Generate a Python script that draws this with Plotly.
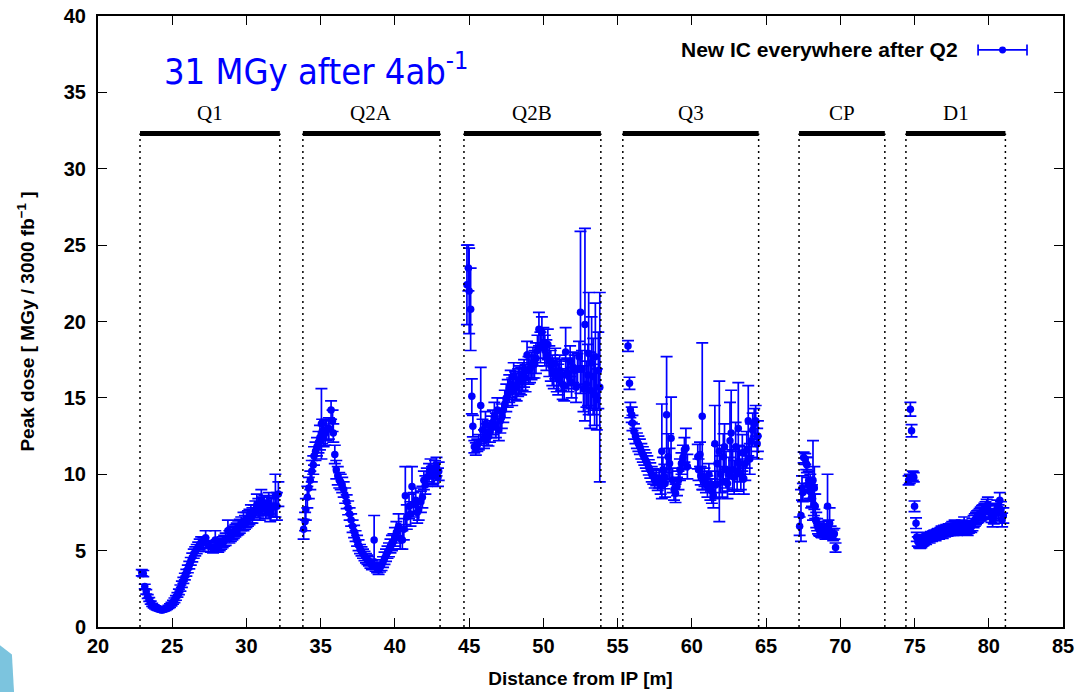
import plotly.graph_objects as go

# ---------------- data ----------------
# Q1
q1_x = [22.95, 23.05, 23.15, 23.25, 23.35, 23.45, 23.55, 23.65, 23.75, 23.85, 23.95, 24.05, 24.15, 24.25,
        24.35, 24.45, 24.55, 24.65, 24.75, 24.85, 24.95, 25.05, 25.15, 25.25, 25.35, 25.45, 25.55, 25.65,
        25.75, 25.85, 25.95, 26.05, 26.15, 26.25, 26.35, 26.45, 26.55, 26.65, 26.75, 26.85, 26.95, 27.1,
        27.25, 27.45, 27.6, 27.75, 27.9, 28.0, 28.1, 28.2, 28.3, 28.4, 28.5, 28.6, 28.75, 28.85, 28.95,
        29.05, 29.15, 29.25, 29.35, 29.45, 29.55, 29.65, 29.8, 29.9, 30.0, 30.1, 30.2, 30.3, 30.4, 30.5,
        30.6, 30.7, 30.8, 30.9, 31.0, 31.1, 31.2, 31.3, 31.4, 31.5, 31.6, 31.7, 31.85, 31.95, 32.05, 32.15]
q1_y = [3.55, 3.5, 2.65, 2.3, 2.0, 1.8, 1.6, 1.45, 1.35, 1.28, 1.22, 1.18, 1.15, 1.12,
        1.12, 1.15, 1.18, 1.25, 1.32, 1.4, 1.5, 1.62, 1.75, 1.9, 2.1, 2.3, 2.55, 2.8,
        3.05, 3.3, 3.55, 3.8, 4.05, 4.3, 4.55, 4.8, 4.95, 5.1, 5.25, 5.4, 5.55, 5.5,
        5.85, 5.3, 5.25, 5.2, 5.7, 5.3, 5.25, 5.35, 5.45, 5.55, 5.65, 5.75, 6.3, 5.9, 6.0,
        6.1, 6.2, 6.3, 6.4, 6.5, 6.6, 6.75, 6.9, 6.85, 7.0, 7.1, 7.2, 7.4, 7.3, 7.5,
        7.7, 8.0, 7.8, 7.6, 8.2, 7.9, 8.0, 7.7, 7.9, 8.1, 7.5, 7.8, 7.9, 8.6, 7.9, 8.7]
q1_e = [0.2, 0.2, 0.15, 0.15, 0.12, 0.12, 0.1, 0.1, 0.1, 0.1, 0.1, 0.1, 0.1, 0.1,
        0.1, 0.1, 0.1, 0.1, 0.1, 0.12, 0.12, 0.12, 0.15, 0.15, 0.15, 0.18, 0.2, 0.2,
        0.2, 0.22, 0.22, 0.25, 0.25, 0.25, 0.28, 0.3, 0.3, 0.3, 0.3, 0.35, 0.35, 0.35,
        0.45, 0.35, 0.35, 0.35, 0.6, 0.4, 0.35, 0.35, 0.35, 0.35, 0.35, 0.4, 0.7, 0.4, 0.4,
        0.4, 0.4, 0.4, 0.4, 0.45, 0.45, 0.45, 0.6, 0.45, 0.5, 0.5, 0.5, 0.6, 0.5, 0.5,
        0.55, 0.7, 0.6, 0.6, 0.8, 0.6, 0.6, 0.6, 0.6, 0.7, 0.6, 0.6, 0.7, 1.4, 0.9, 0.8]

# Q2A
q2a_x = [33.85, 33.95, 34.0, 34.1, 34.2, 34.3, 34.4, 34.5, 34.55, 34.65, 34.75, 34.85, 34.95, 35.05,
         35.1, 35.2, 35.3, 35.4, 35.55, 35.7, 35.8, 35.85, 35.95, 36.05, 36.15, 36.25, 36.35, 36.45,
         36.55, 36.65, 36.75, 36.85, 36.95, 37.05, 37.15, 37.25, 37.35, 37.45, 37.55, 37.65, 37.75,
         37.85, 37.95, 38.05, 38.15, 38.25, 38.35, 38.45, 38.6, 38.7, 38.8, 38.9, 39.0, 39.1, 39.2,
         39.3, 39.4, 39.5, 39.6, 39.7, 39.8, 39.9, 40.0, 40.1, 40.25, 40.35, 40.5, 40.6, 40.7, 40.8,
         40.95, 41.05, 41.15, 41.25, 41.4, 41.5, 41.6, 41.75, 41.85, 41.95, 42.05, 42.15, 42.3, 42.4,
         42.5, 42.6, 42.7, 42.8, 42.9, 42.95]
q2a_y = [6.4, 6.9, 7.7, 8.5, 9.1, 9.6, 10.2, 10.6, 11.2, 11.5, 11.8, 12.1, 12.4, 13.3,
         12.8, 12.5, 12.7, 12.9, 13.0, 14.2, 13.5, 12.7, 11.3, 10.3, 9.9, 9.6, 9.5, 9.3,
         9.0, 8.6, 8.2, 7.8, 7.4, 7.0, 6.6, 6.25, 5.95, 5.65, 5.35, 5.1, 4.95,
         4.8, 4.65, 4.5, 4.4, 4.3, 4.15, 4.05, 5.7, 3.95, 3.85, 3.75, 3.9, 4.05, 4.25,
         4.5, 4.7, 4.9, 5.05, 5.3, 5.5, 5.6, 5.9, 6.2, 6.6, 5.8, 5.7, 6.4, 8.6, 7.2,
         7.9, 7.4, 9.2, 8.0, 8.3, 7.5, 7.7, 8.2, 8.5, 9.6, 9.3, 9.8, 10.1, 10.4,
         9.9, 10.0, 10.3, 10.5, 9.8, 10.2]
q2a_e = [0.65, 0.6, 0.7, 0.7, 0.7, 0.6, 0.7, 0.6, 0.6, 0.6, 0.6, 0.7, 0.8, 2.3,
         0.8, 0.7, 0.8, 0.7, 0.7, 0.6, 0.7, 0.6, 0.6, 0.6, 0.6, 0.5, 0.5, 0.5,
         0.5, 0.5, 0.45, 0.45, 0.4, 0.4, 0.4, 0.4, 0.35, 0.35, 0.35, 0.3, 0.3,
         0.3, 0.3, 0.3, 0.3, 0.3, 0.3, 0.3, 1.6, 0.3, 0.3, 0.3, 0.3, 0.35, 0.35,
         0.4, 0.4, 0.4, 0.45, 0.45, 0.5, 0.5, 0.6, 0.7, 0.8, 0.7, 0.6, 0.7, 1.9, 0.8,
         0.8, 0.8, 1.3, 0.8, 0.8, 0.7, 0.7, 0.7, 0.7, 0.6, 0.6, 0.6, 0.6, 0.6,
         0.6, 0.6, 0.6, 0.6, 0.6, 0.6]

# Q2B
q2b_x = [44.85, 44.95, 45.0, 45.1, 45.18, 45.25, 45.35, 45.45, 45.55, 45.65, 45.78, 45.9, 46.0, 46.1,
         46.2, 46.3, 46.4, 46.5, 46.6, 46.7, 46.8, 46.9, 47.0, 47.1, 47.2, 47.3, 47.4, 47.5, 47.6,
         47.7, 47.8, 47.9, 48.0, 48.1, 48.2, 48.3, 48.4, 48.5, 48.6, 48.7, 48.8, 48.9, 49.0, 49.1,
         49.2, 49.3, 49.4, 49.5, 49.6, 49.7, 49.8, 49.9, 50.0, 50.1, 50.2, 50.3, 50.4, 50.5, 50.6,
         50.7, 50.8, 50.9, 51.0, 51.1, 51.2, 51.3, 51.4, 51.5, 51.6, 51.7, 51.8, 51.9, 52.0, 52.1,
         52.2, 52.3, 52.4, 52.5, 52.6, 52.7, 52.8, 52.9, 53.0, 53.05, 53.15, 53.25, 53.35, 53.45,
         53.5, 53.6, 53.7, 53.8]
q2b_y = [22.4, 23.5, 22.0, 20.8, 15.1, 13.15, 11.8, 11.65, 11.9, 12.1, 14.5, 12.9, 12.3, 13.3,
         12.6, 12.45, 12.8, 13.1, 13.4, 13.8, 13.2, 14.2, 12.9, 13.5, 13.8, 14.2, 14.6, 15.0, 15.3,
         15.6, 15.9, 15.4, 16.4, 15.8, 15.7, 16.0, 16.2, 16.1, 16.4, 16.6, 16.3, 17.8, 16.8, 16.9,
         17.1, 17.3, 17.2, 17.6, 18.1, 19.5, 18.3, 19.3, 18.6, 18.1, 17.8, 18.5, 17.4, 17.1, 16.8,
         16.6, 17.25, 16.4, 16.2, 16.8, 16.5, 15.9, 15.8, 18.0, 16.6, 16.4, 17.4, 16.0, 17.0, 16.8,
         15.7, 16.9, 17.7, 20.6, 16.9, 15.6, 19.8, 15.9, 16.5, 17.9, 15.5, 17.3, 16.4, 15.2,
         17.7, 14.9, 16.8, 15.7]
q2b_e = [2.6, 1.5, 2.8, 2.7, 1.15, 0.7, 0.4, 0.4, 0.4, 0.5, 2.5, 0.7, 0.6, 0.8,
         0.7, 0.6, 0.7, 0.7, 0.8, 0.9, 0.8, 0.8, 0.7, 0.8, 0.8, 0.8, 0.9, 0.9, 0.9,
         0.9, 0.9, 0.9, 0.9, 0.9, 0.9, 0.9, 0.9, 0.9, 0.9, 0.9, 0.9, 0.9, 0.9, 0.9,
         0.9, 1.0, 0.9, 1.0, 1.0, 1.1, 1.0, 1.0, 1.0, 1.0, 1.0, 1.0, 1.0, 1.0, 1.0,
         1.0, 1.0, 1.0, 1.0, 1.0, 1.0, 1.0, 1.0, 1.6, 1.0, 1.0, 1.0, 1.0, 1.0, 1.0,
         1.0, 1.0, 1.0, 5.3, 1.2, 1.5, 6.3, 1.5, 2.0, 4.0, 2.5, 3.0, 2.5, 2.0,
         3.5, 2.0, 2.5, 6.2]

# Q3
q3_x = [55.7, 55.8, 55.86, 55.95, 56.0, 56.1, 56.2, 56.3, 56.4, 56.5, 56.6, 56.7, 56.8, 56.9, 57.0,
        57.1, 57.2, 57.3, 57.4, 57.5, 57.6, 57.7, 57.8, 57.9, 57.98, 58.05, 58.15, 58.2, 58.3, 58.4,
        58.5, 58.6, 58.7, 58.8, 58.9, 59.0, 59.1, 59.2, 59.3, 59.4, 59.5, 59.6, 59.7,
        60.4, 60.45, 60.55, 60.6, 60.7, 60.75, 60.85, 60.95, 61.05, 61.15, 61.25, 61.35, 61.45,
        61.55, 61.6, 61.7, 61.85, 61.95, 62.05, 62.12, 62.2, 62.3, 62.4, 62.5, 62.57, 62.65, 62.75,
        62.85, 62.95, 63.05, 63.13, 63.2, 63.3, 63.4, 63.5, 63.6, 63.7, 63.8, 63.9, 64.0, 64.1, 64.2,
        64.3, 64.4, 64.45]
q3_y = [18.4, 15.95, 14.2, 13.9, 13.35, 12.8, 12.5, 12.2, 12.0, 11.8, 11.5, 11.3, 11.1, 10.9, 10.7,
        10.45, 10.25, 10.0, 9.85, 9.6, 9.75, 9.45, 9.7, 9.3, 11.5, 10.3, 9.85, 9.4, 13.9, 11.15,
        10.7, 12.35, 9.6, 9.0, 8.75, 9.2, 9.6, 10.3, 10.7, 11.1, 11.6, 11.7, 10.5,
        11.15, 10.3, 11.3, 9.9, 13.8, 9.6, 9.8, 9.4, 9.2, 10.0, 9.0, 8.9, 8.6,
        12.0, 9.3, 10.7, 11.5, 10.0, 9.5, 11.15, 11.8, 10.3, 9.4, 10.0, 12.2, 12.7, 10.3,
        9.8, 11.8, 10.2, 13.0, 10.7, 10.0, 11.4, 9.7, 10.7, 11.6, 13.5, 11.0, 12.2, 12.9, 13.3,
        13.5, 12.0, 12.5]
q3_e = [0.35, 0.4, 0.5, 0.5, 0.5, 0.5, 0.5, 0.5, 0.5, 0.5, 0.5, 0.5, 0.5, 0.5, 0.5,
        0.5, 0.5, 0.5, 0.5, 0.5, 0.5, 0.5, 0.6, 0.6, 3.1, 0.8, 0.8, 0.9, 3.8, 1.5,
        1.0, 2.7, 0.8, 0.7, 0.6, 0.6, 0.6, 0.7, 0.7, 0.8, 0.8, 1.3, 0.8,
        0.8, 0.7, 0.8, 0.6, 4.8, 0.6, 0.6, 0.6, 0.7, 0.7, 0.7, 0.8, 0.8,
        2.5, 0.9, 1.2, 4.6, 1.2, 1.0, 1.5, 1.5, 1.2, 1.0, 1.1, 2.5, 2.8, 1.3,
        1.1, 1.6, 1.3, 3.0, 1.2, 1.0, 1.2, 1.0, 1.1, 1.2, 2.3, 1.0, 1.1, 1.1, 1.0,
        1.0, 1.0, 1.0]

# CP
cp_x = [67.26, 67.35, 67.42, 67.48, 67.53, 67.64, 67.7, 67.75, 67.82, 67.87, 67.93, 67.98, 68.04,
        68.09, 68.16, 68.22, 68.25, 68.31, 68.38, 68.44, 68.5, 68.56, 68.62, 68.7, 68.76, 68.82,
        68.88, 68.94, 69.0, 69.06, 69.14, 69.2, 69.28, 69.35, 69.43, 69.52, 69.6, 69.68]
cp_y = [6.6, 7.3, 9.1, 8.8, 11.1, 11.0, 10.7, 10.6, 9.3, 9.6, 8.9, 9.2, 8.4,
        8.6, 9.6, 8.0, 9.1, 7.9, 7.0, 6.7, 6.5, 6.4, 6.3, 6.25, 6.2, 6.4,
        6.5, 6.2, 6.1, 6.3, 7.9, 6.5, 6.8, 6.2, 6.1, 6.0, 6.1, 5.2]
cp_e = [0.6, 1.7, 0.8, 0.6, 0.35, 0.35, 0.4, 0.5, 0.5, 0.6, 0.5, 0.8, 0.6,
        0.7, 2.6, 0.7, 1.4, 0.8, 0.5, 0.4, 0.4, 0.4, 0.35, 0.35, 0.35, 0.35,
        0.4, 0.35, 0.35, 0.4, 2.1, 0.5, 1.0, 0.4, 0.35, 0.35, 0.35, 0.3]

# D1
d1_x = [74.6, 74.68, 74.72, 74.8, 74.88, 74.95, 75.0, 75.1, 75.15, 75.22, 75.3, 75.38, 75.46, 75.54,
        75.62, 75.7, 75.78, 75.86, 75.94, 76.02, 76.1, 76.18, 76.26, 76.34, 76.42, 76.5, 76.58, 76.66,
        76.74, 76.82, 76.9, 76.98, 77.06, 77.14, 77.22, 77.3, 77.38, 77.46, 77.54, 77.62, 77.7, 77.78,
        77.86, 77.94, 78.02, 78.1, 78.18, 78.26, 78.34, 78.42, 78.5, 78.58, 78.66, 78.74, 78.82, 78.9,
        78.98, 79.06, 79.14, 79.22, 79.3, 79.38, 79.46, 79.54, 79.62, 79.7, 79.78, 79.86, 79.94, 80.02,
        80.1, 80.18, 80.26, 80.34, 80.42, 80.5, 80.58, 80.66, 80.74, 80.82, 80.9, 80.98]
d1_y = [9.6, 9.7, 14.25, 12.85, 9.9, 9.8, 7.9, 6.8, 5.9, 5.6, 5.5, 5.45, 5.5, 5.6,
        5.65, 5.75, 5.7, 5.85, 5.9, 5.8, 5.95, 5.9, 6.0, 6.05, 5.95, 6.1, 6.15, 6.05,
        6.2, 6.25, 6.1, 6.3, 6.2, 6.35, 6.25, 6.4, 6.3, 6.45, 6.5, 6.35, 6.6, 6.45,
        6.3, 6.4, 6.5, 6.55, 6.6, 6.45, 6.7, 6.5, 6.4, 6.35, 6.5, 6.6, 6.55, 6.7,
        6.9, 7.0, 7.1, 7.2, 7.25, 7.35, 7.4, 7.5, 7.55, 7.65, 7.7, 7.85, 8.0, 7.6,
        7.5, 7.3, 7.0, 7.2, 7.45, 7.6, 7.8, 7.5, 8.3, 7.7, 7.0, 7.3]
d1_e = [0.3, 0.3, 0.45, 0.4, 0.3, 0.3, 0.35, 0.35, 0.3, 0.3, 0.3, 0.3, 0.3, 0.3,
        0.3, 0.3, 0.3, 0.3, 0.3, 0.3, 0.3, 0.3, 0.3, 0.3, 0.3, 0.3, 0.3, 0.3,
        0.3, 0.35, 0.3, 0.35, 0.3, 0.35, 0.3, 0.35, 0.3, 0.35, 0.4, 0.35, 0.4, 0.35,
        0.3, 0.35, 0.35, 0.35, 0.4, 0.35, 0.5, 0.4, 0.35, 0.35, 0.35, 0.35, 0.35, 0.4,
        0.4, 0.4, 0.4, 0.4, 0.4, 0.4, 0.45, 0.45, 0.45, 0.45, 0.5, 0.5, 0.5, 0.45,
        0.45, 0.45, 0.45, 0.45, 0.5, 0.5, 0.5, 0.5, 0.5, 0.5, 0.45, 0.5]

# magnet sections
sec_names = ["Q1", "Q2A", "Q2B", "Q3", "CP", "D1"]
sec_start = [22.83, 33.8, 44.65, 55.35, 67.22, 74.42]
sec_end = [32.25, 43.04, 53.87, 64.5, 73.0, 81.12]
sec_bar_level = 32.3
sec_label_level = 33.65

x_ticks = [20, 25, 30, 35, 40, 45, 50, 55, 60, 65, 70, 75, 80, 85]
y_ticks = [0, 5, 10, 15, 20, 25, 30, 35, 40]

series_name = "New IC everywhere after Q2"
headline = "31 MGy after 4ab<sup>-1</sup>"

# ---------------- figure ----------------
BLUE = "#0000ff"
SANS = "Liberation Sans, Arial, sans-serif"
SERIF = "Liberation Serif, Times New Roman, serif"

xs = q1_x + q2a_x + q2b_x + q3_x + cp_x + d1_x
ys = q1_y + q2a_y + q2b_y + q3_y + cp_y + d1_y
es = q1_e + q2a_e + q2b_e + q3_e + cp_e + d1_e

fig = go.Figure()
fig.add_trace(go.Scatter(
    x=xs, y=ys, mode="markers", name=series_name, showlegend=False,
    marker=dict(color=BLUE, size=7.5, line=dict(width=0)),
    error_y=dict(type="data", array=es, visible=True, color=BLUE, thickness=1.7, width=6),
))

shapes = []
annotations = []
for name, s, e in zip(sec_names, sec_start, sec_end):
    for xv in (s, e):
        shapes.append(dict(type="line", xref="x", yref="y", x0=xv, x1=xv, y0=0, y1=sec_bar_level,
                           line=dict(color="black", width=1.5, dash="2px,4px")))
    shapes.append(dict(type="line", xref="x", yref="y", x0=s, x1=e, y0=sec_bar_level, y1=sec_bar_level,
                       line=dict(color="black", width=5)))
    annotations.append(dict(x=(s + e) / 2, y=sec_label_level, xref="x", yref="y", text=name,
                            showarrow=False, font=dict(family=SERIF, size=21, color="black"),
                            yanchor="middle"))

# headline
annotations.append(dict(x=24.3, y=36.5, xref="x", yref="y", text=headline, showarrow=False,
                        xanchor="left", yanchor="middle",
                        font=dict(family="DejaVu Sans Condensed, DejaVu Sans, sans-serif", size=36, color=BLUE)))

# key (gnuplot style: text left, sample right)
key_y = 0.9444
annotations.append(dict(x=0.8935, y=key_y, xref="paper", yref="paper", text="<b>" + series_name + "</b>",
                        showarrow=False, xanchor="right", yanchor="middle",
                        font=dict(family=SANS, size=21, color="black")))
kx0, kx1 = 0.912, 0.9627
shapes.append(dict(type="line", xref="paper", yref="paper", x0=kx0, x1=kx1, y0=key_y, y1=key_y,
                   line=dict(color=BLUE, width=1.7)))
for kx in (kx0, kx1):
    shapes.append(dict(type="line", xref="paper", yref="paper", x0=kx, x1=kx, y0=key_y - 0.009,
                       y1=key_y + 0.009, line=dict(color=BLUE, width=1.7)))
shapes.append(dict(type="circle", xref="paper", yref="paper", x0=(kx0 + kx1) / 2 - 0.0036,
                   x1=(kx0 + kx1) / 2 + 0.0036, y0=key_y - 0.0057, y1=key_y + 0.0057,
                   fillcolor=BLUE, line=dict(width=0)))

# slide decoration fragment at bottom-left corner
shapes.append(dict(type="path", xref="paper", yref="paper",
                   path="M -0.1016,-0.1064 L -0.1016,-0.030 L -0.0892,-0.045 L -0.0870,-0.1064 Z",
                   fillcolor="#7cc4de", line=dict(width=0), layer="above"))

axis_common = dict(showline=True, linecolor="black", linewidth=2, mirror="ticks", ticks="inside",
                   ticklen=9, tickwidth=1.2, tickcolor="black", showgrid=False, zeroline=False,
                   automargin=False,
                   tickfont=dict(family=SANS, size=20, color="black", weight="bold"))

fig.update_layout(
    width=1080, height=692,
    margin=dict(l=98, r=17, t=16, b=65),
    paper_bgcolor="white", plot_bgcolor="white",
    shapes=shapes, annotations=annotations,
    xaxis=dict(range=[20, 85], tickvals=x_ticks, **axis_common,
               title=dict(text="<b>Distance from IP [m]</b>", standoff=16,
                          font=dict(family=SANS, size=19, color="black"))),
    yaxis=dict(range=[0, 40], tickvals=y_ticks, ticklabelstandoff=6, **axis_common,
               title=dict(text="<b>Peak dose [ MGy / 3000 fb<sup>−1</sup> ]</b>", standoff=24,
                          font=dict(family=SANS, size=19, color="black"))),
)

fig.write_html("out.html", config={"displayModeBar": False},
               post_script="document.body.style.margin='0px';")
